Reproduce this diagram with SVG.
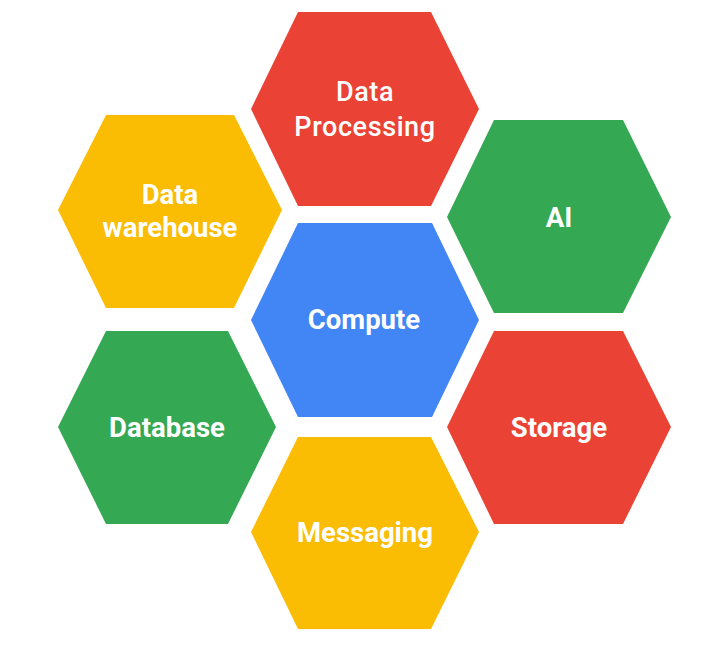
<svg xmlns="http://www.w3.org/2000/svg" width="722" height="650" viewBox="0 0 722 650">
<style>
.lbl{font-family:Roboto,"Liberation Sans",sans-serif;font-weight:700;font-size:27.5px;fill:#fff;text-anchor:middle}
.lbl2{font-family:Roboto,"Liberation Sans",sans-serif;font-weight:500;font-size:27px;fill:#fff;text-anchor:middle;letter-spacing:0.6px}
.red{fill:#EA4335}.green{fill:#34A853}.blue{fill:#4285F4}.yellow{fill:#FBBC04}
</style>
<rect width="722" height="650" fill="#fff"/>
<g id="data-processing">
<polygon class="red" points="251,109 298,12 431,12 479,109 431,206 298,206"/>
<text class="lbl2" x="365" y="101">Data</text>
<text class="lbl2" x="365" y="136">Processing</text>
</g>
<g id="data-warehouse">
<polygon class="yellow" points="58,210 106,115 234,115 282,210 234,308 106,308"/>
<text class="lbl" x="170" y="204">Data</text>
<text class="lbl" x="170" y="237">warehouse</text>
</g>
<g id="ai">
<polygon class="green" points="447,217 494,120 623,120 671,217 623,313 494,313"/>
<text class="lbl" x="559" y="227">AI</text>
</g>
<g id="compute">
<polygon class="blue" points="251,320 298,223 432,223 479,320 432,417 298,417"/>
<text class="lbl" x="364" y="329">Compute</text>
</g>
<g id="database">
<polygon class="green" points="58,427 106,331 228,331 276,427 228,524 106,524"/>
<text class="lbl" x="167" y="437">Database</text>
</g>
<g id="storage">
<polygon class="red" points="447,427 494,331 623,331 671,427 623,524 494,524"/>
<text class="lbl" x="559" y="437">Storage</text>
</g>
<g id="messaging">
<polygon class="yellow" points="251,532 298,437 431,437 479,532 431,629 298,629"/>
<text class="lbl" x="365" y="542">Messaging</text>
</g>
<g id="connectors"/>
</svg>
